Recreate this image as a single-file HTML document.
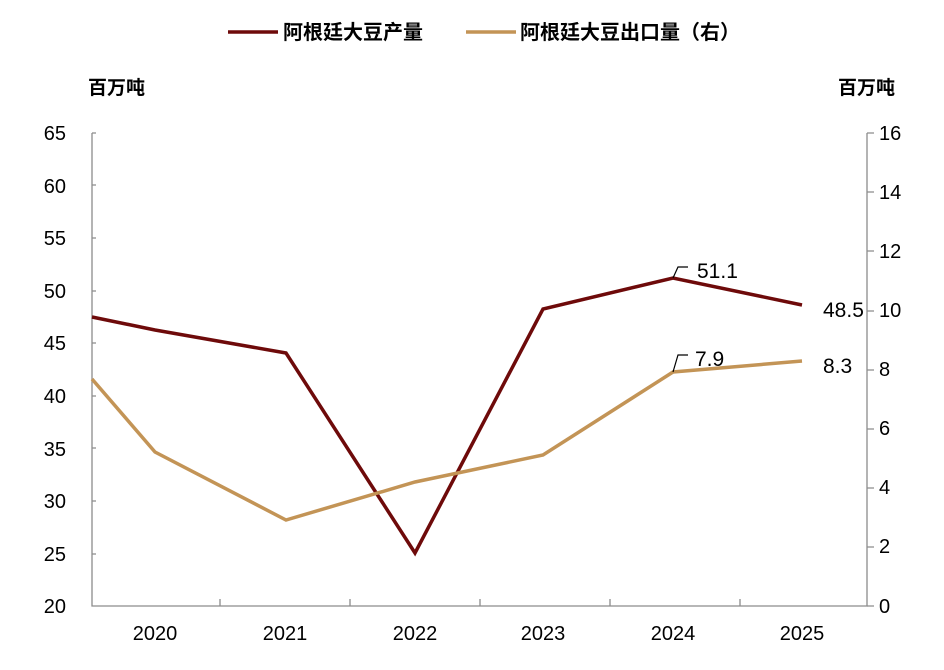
<!DOCTYPE html>
<html><head><meta charset="utf-8"><style>
body{margin:0;background:#fff;}
svg text{font-family:"Liberation Sans","Noto Sans CJK SC",sans-serif;fill:#000;}
</style></head><body>
<svg width="944" height="665" viewBox="0 0 944 665" xmlns="http://www.w3.org/2000/svg">
<g font-size="20" text-anchor="end">
<text x="66" y="140">65</text><text x="66" y="193">60</text><text x="66" y="245">55</text>
<text x="66" y="298">50</text><text x="66" y="350">45</text><text x="66" y="403">40</text>
<text x="66" y="456">35</text><text x="66" y="508">30</text><text x="66" y="561">25</text>
<text x="66" y="613">20</text>
</g>
<g font-size="20" text-anchor="start">
<text x="879" y="140">16</text><text x="879" y="199">14</text><text x="879" y="258">12</text>
<text x="879" y="317">10</text><text x="879" y="376">8</text><text x="879" y="435">6</text>
<text x="879" y="494">4</text><text x="879" y="553">2</text><text x="879" y="613">0</text>
</g>
<text x="88" y="94" font-size="19" font-weight="bold">百万吨</text>
<text x="838" y="94" font-size="19" font-weight="bold">百万吨</text>
<g stroke="#8c8c8c" stroke-width="1.3" fill="none">
<path d="M92,133V606H867V133"/>
<path d="M92,133h4M92,185h4M92,238h4M92,291h4M92,343h4M92,396h4M92,448h4M92,501h4M92,554h4"/>
<path d="M867,133h7M867,192h7M867,251h7M867,311h7M867,370h7M867,429h7M867,488h7M867,547h7M867,606h7"/>
<path d="M220,606v-7M350,606v-7M480,606v-7M610,606v-7M740,606v-7"/>
</g>
<g font-size="20" text-anchor="middle">
<text x="155" y="640">2020</text><text x="285" y="640">2021</text><text x="415" y="640">2022</text>
<text x="543" y="640">2023</text><text x="673" y="640">2024</text><text x="802" y="640">2025</text>
</g>
<polyline points="92,317 155,330 286,353 415,553 543,309 673,278 802,305" fill="none" stroke="#6e0a0a" stroke-width="3.5"/>
<polyline points="92,379 155,452 286,520 415,482 543,455 673,372 802,361" fill="none" stroke="#c39456" stroke-width="3.5"/>
<path d="M673,278L678,267H688M673,372L678,355H688" stroke="#000" stroke-width="1.2" fill="none"/>
<g font-size="21">
<text x="697" y="278">51.1</text><text x="823" y="317">48.5</text>
<text x="695" y="366">7.9</text><text x="823" y="373">8.3</text>
</g>
<line x1="228" y1="32" x2="278" y2="32" stroke="#6e0a0a" stroke-width="3.5"/>
<text x="283" y="39" font-size="20" font-weight="bold">阿根廷大豆产量</text>
<line x1="466" y1="32" x2="516" y2="32" stroke="#c39456" stroke-width="3.5"/>
<text x="520" y="39" font-size="20" font-weight="bold">阿根廷大豆出口量（右）</text>
</svg>
</body></html>
